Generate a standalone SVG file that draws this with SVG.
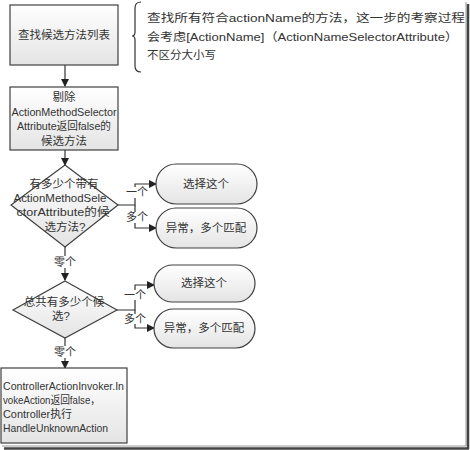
<svg xmlns="http://www.w3.org/2000/svg" width="470" height="450" viewBox="0 0 470 450">
<style>
.shape{stroke:#404040;stroke-width:1.2;fill:url(#g)}
.t{font-family:"Liberation Sans","Noto Sans CJK SC",sans-serif;font-size:11.5px;fill:#333}
.c{text-anchor:middle}
.ln{stroke:#333;stroke-width:1.2;fill:none}
.lb{font-family:"Noto Sans CJK SC",sans-serif;font-size:11px;fill:#333;text-anchor:middle}
</style>
<defs>
<linearGradient id="g" x1="0" y1="0" x2="0" y2="1">
<stop offset="0" stop-color="#ffffff"/>
<stop offset="1" stop-color="#e4e4e4"/>
</linearGradient>
<marker id="ah" markerWidth="8" markerHeight="8" refX="7" refY="4" orient="auto" markerUnits="userSpaceOnUse">
<path d="M0,0 L8,4 L0,8 Z" fill="#222"/>
</marker>
</defs>
<rect width="470" height="450" fill="#fff"/>
<g id="frame">
<line x1="466" y1="2" x2="466" y2="446" stroke="#999" stroke-width="1"/>
<line x1="2" y1="446" x2="466" y2="446" stroke="#999" stroke-width="1"/>
<line x1="468" y1="4" x2="468" y2="449" stroke="#444" stroke-width="2.5"/>
<line x1="4" y1="448.5" x2="469" y2="448.5" stroke="#444" stroke-width="2.5"/>
</g>
<g id="connectors">
<line class="ln" x1="65" y1="65" x2="65" y2="86" marker-end="url(#ah)"/>
<line class="ln" x1="65" y1="150" x2="65" y2="165" marker-end="url(#ah)"/>
<path class="ln" d="M118,205 H135 V184 H156" marker-end="url(#ah)"/>
<path class="ln" d="M135,205 V228 H156" marker-end="url(#ah)"/>
<line class="ln" x1="65" y1="247" x2="65" y2="280" marker-end="url(#ah)"/>
<path class="ln" d="M117,310 H135 V285 H154" marker-end="url(#ah)"/>
<path class="ln" d="M135,310 V328 H154" marker-end="url(#ah)"/>
<line class="ln" x1="65" y1="338" x2="65" y2="368" marker-end="url(#ah)"/>
<rect x="127" y="187" width="20" height="11" fill="#fff"/>
<text class="lb" x="137" y="196">一个</text>
<rect x="127" y="212" width="20" height="11" fill="#fff"/>
<text class="lb" x="137" y="221">多个</text>
<rect x="54" y="256" width="22" height="12" fill="#fff"/>
<text class="lb" x="65" y="266">零个</text>
<rect x="125" y="290" width="20" height="10" fill="#fff"/>
<text class="lb" x="135" y="299">一个</text>
<rect x="125" y="314" width="20" height="10" fill="#fff"/>
<text class="lb" x="135" y="323">多个</text>
<rect x="54" y="346" width="22" height="12" fill="#fff"/>
<text class="lb" x="65" y="356">零个</text>
</g>
<g id="n1">
<rect class="shape" x="10" y="5" width="108" height="60"/>
<text class="t c" x="64" y="39">查找候选方法列表</text>
</g>
<g id="note">
<path class="ln" d="M141,2 Q135,2 135,8 V32 Q135,36 132,36 Q135,36 135,40 V66 Q135,72 141,72" stroke-width="1"/>
<text class="t" x="147" y="22" font-size="13.5" textLength="318" lengthAdjust="spacingAndGlyphs">查找所有符合actionName的方法，这一步的考察过程</text>
<text class="t" x="147" y="40.5" font-size="13.5" textLength="311" lengthAdjust="spacingAndGlyphs">会考虑[ActionName]（ActionNameSelectorAttribute）</text>
<text class="t" x="147" y="59" font-size="13.5">不区分大小写</text>
</g>
<g id="n2">
<rect class="shape" x="10" y="87" width="108" height="63"/>
<text class="t c" x="64" y="101">剔除</text>
<text class="t c" x="64" y="115.5" textLength="105" lengthAdjust="spacingAndGlyphs">ActionMethodSelector</text>
<text class="t c" x="64" y="130" textLength="94" lengthAdjust="spacingAndGlyphs">Attribute返回false的</text>
<text class="t c" x="64" y="144.5">候选方法</text>
</g>
<g id="d1">
<polygon class="shape" points="65,165 118,205 65,247 11,205"/>
<text class="t c" x="64" y="188">有多少个带有</text>
<text class="t c" x="60" y="201.5" textLength="93" lengthAdjust="spacingAndGlyphs">ActionMethodSele</text>
<text class="t c" x="63" y="216" textLength="93" lengthAdjust="spacingAndGlyphs">ctorAttribute的候</text>
<text class="t c" x="65" y="231">选方法?</text>
</g>
<g id="r1">
<rect class="shape" x="156" y="164" width="101" height="40" rx="20"/>
<text class="t c" x="206" y="188">选择这个</text>
</g>
<g id="r2">
<rect class="shape" x="156" y="208" width="101" height="40" rx="20"/>
<text class="t c" x="206" y="232">异常，多个匹配</text>
</g>
<g id="d2">
<polygon class="shape" points="65,281 117,310 65,338 13,310"/>
<text class="t c" x="64" y="306">总共有多少个候</text>
<text class="t c" x="61" y="320">选?</text>
</g>
<g id="r3">
<rect class="shape" x="154" y="265" width="101" height="37" rx="18.5"/>
<text class="t c" x="204" y="287">选择这个</text>
</g>
<g id="r4">
<rect class="shape" x="154" y="309" width="101" height="39" rx="19.5"/>
<text class="t c" x="204" y="332">异常，多个匹配</text>
</g>
<g id="n3">
<rect class="shape" x="1" y="368" width="126" height="75"/>
<text class="t" x="3" y="390" textLength="121" lengthAdjust="spacingAndGlyphs">ControllerActionInvoker.In</text>
<text class="t" x="3" y="404" textLength="97" lengthAdjust="spacingAndGlyphs">vokeAction返回false，</text>
<text class="t" x="3" y="418" textLength="69" lengthAdjust="spacingAndGlyphs">Controller执行</text>
<text class="t" x="3" y="432" textLength="105" lengthAdjust="spacingAndGlyphs">HandleUnknownAction</text>
</g>
</svg>
